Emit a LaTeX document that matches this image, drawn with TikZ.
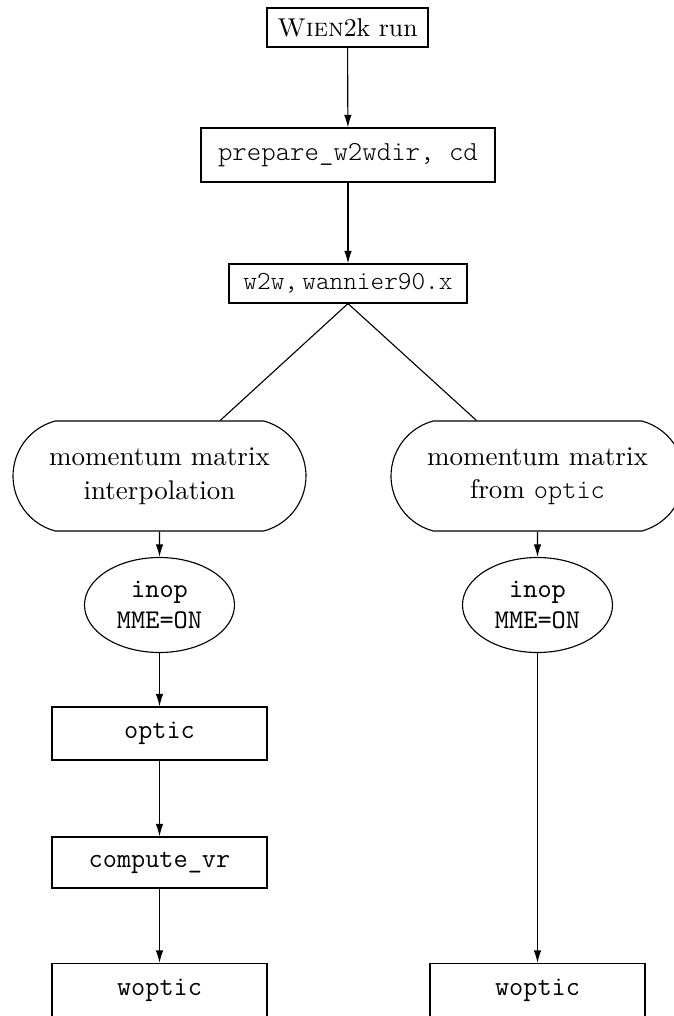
\documentclass[tikz,border=0pt]{standalone}
\usepackage{fontspec}
\newfontfamily\cour[Extension=.otf]{lmmonolt10-regular}
\usetikzlibrary{shapes.misc,shapes.geometric,arrows.meta}
\tikzset{
  base/.style={draw, inner sep=0pt, line width=0.45pt, align=center},
  sqbox/.style={base, rectangle},
  roundbox/.style={base, rounded rectangle, rounded rectangle arc length=150,
     minimum width=117.2pt, minimum height=44pt,
     font=\fontsize{10.8}{13.4}\selectfont},
  ovalnode/.style={base, ellipse, minimum width=60pt, minimum height=38pt,
     font=\fontsize{10.8}{12.6}\selectfont\ttfamily},
  ttbox/.style={sqbox, minimum width=86pt, minimum height=21.2pt,
     font=\fontsize{11}{13}\selectfont\ttfamily},
  arr/.style={line width=0.45pt, -{Latex[length=5pt,width=3pt]}},
  link/.style={line width=0.45pt}
}
\begin{document}
\begin{tikzpicture}[x=0.4pt,y=-0.4pt]
\useasboundingbox (0,0) rectangle (674,1016);
\clip (0,0) rectangle (674,1016);
\node[sqbox, minimum width=64.4pt, minimum height=15.6pt,
      font=\fontsize{10.3}{12}\selectfont] (wien) at (347.5,27.5) {\textsc{Wien}2k run};
\node[sqbox, minimum width=117.6pt, minimum height=21.6pt,
      font=\fontsize{11}{12}\selectfont\cour] (prep) at (348,155) {prepare\_w2wdir, cd};
\node[sqbox, minimum width=95.2pt, minimum height=15.6pt,
      font=\fontsize{10.4}{12}\selectfont\cour] (w2w) at (348,283.5) {w2w,\,wannier90.x};
\node[roundbox] (mmL) at (159.5,476) {momentum matrix\\interpolation};
\node[roundbox] (mmR) at (537.5,476) {momentum matrix\\from {\cour optic}};
\node[ovalnode] (ellL) at (159.5,605) {inop\\MME=ON};
\node[ovalnode] (ellR) at (537.5,605) {inop\\MME=ON};
\node[ttbox] (opt) at (159.5,733.5) {optic};
\node[ttbox, minimum height=20.4pt] (cvr) at (159.5,862.5) {compute\_vr};
\node[ttbox] (wopL) at (159.5,990) {woptic};
\node[ttbox] (wopR) at (537.5,990) {woptic};
\draw[arr] (wien) -- (prep);
\draw[arr] (prep) -- (w2w);
\draw[link] (w2w.south) -- (mmL);
\draw[link] (w2w.south) -- (mmR);
\draw[arr] (mmL) -- (ellL);
\draw[arr] (mmR) -- (ellR);
\draw[arr] (ellL) -- (opt);
\draw[arr] (opt) -- (cvr);
\draw[arr] (cvr) -- (wopL);
\draw[arr] (ellR) -- (wopR);
\end{tikzpicture}
\end{document}
